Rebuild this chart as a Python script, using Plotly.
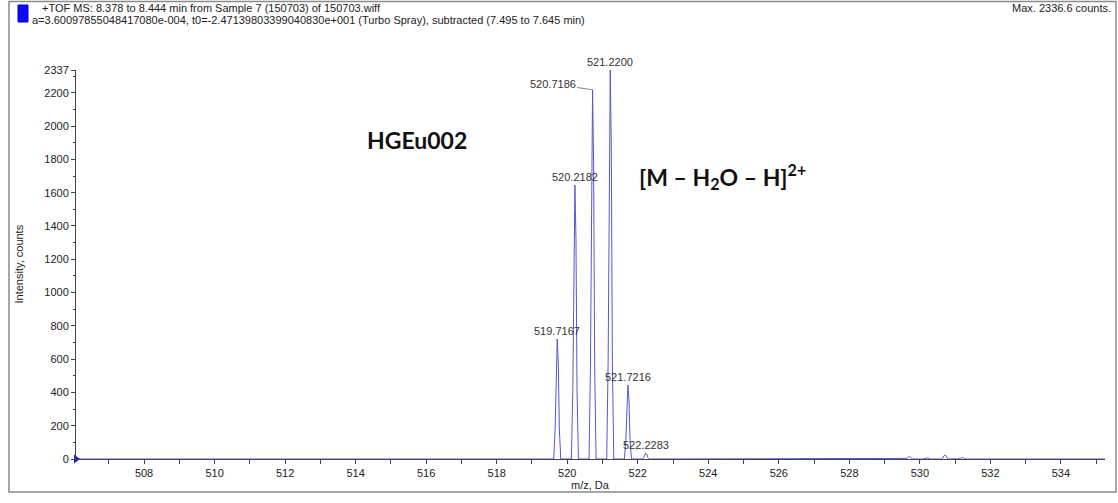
import plotly.graph_objects as go

# ---- spectrum data (m/z in Da, intensity in counts) ----
peak_mz = [519.7167, 520.2182, 520.7186, 521.2200, 521.7216, 522.2283]
peak_int = [721, 1646, 2218, 2336.6, 445, 35]
minor_mz = [529.70, 530.20, 530.71, 531.21]
minor_int = [14, 9, 24, 8]

x_range = [506.07, 535.25]
y_max = 2337
y_ticks = [0, 200, 400, 600, 800, 1000, 1200, 1400, 1600, 1800, 2000, 2200, 2337]

title_line1 = "+TOF MS: 8.378 to 8.444 min from Sample 7 (150703) of 150703.wiff"
title_line2 = ("a=3.60097855048417080e-004, t0=-2.47139803399040830e+001 "
               "(Turbo Spray), subtracted (7.495 to 7.645 min)")
max_text = "Max. 2336.6 counts."

# ---- page geometry ----
W, H = 1118, 503
L, R, T, B = 76, 13, 70, 44
PW, PH = W - L - R, H - T - B


def px_x(px):
    return (px - L) / PW


def px_y(py):
    return (H - B - py) / PH


# profile trace: each centroid drawn as a narrow peak on a flat baseline
shape_dx = [-0.1, -0.06, -0.03, 0.0, 0.03, 0.06, 0.1]
shape_fr = [0.0, 0.25, 0.8, 1.0, 0.8, 0.25, 0.0]

all_peaks = sorted(zip(peak_mz + minor_mz, peak_int + minor_int))
prof_x, prof_y = [x_range[0]], [0]
for mz, h in all_peaks:
    for dx, fr in zip(shape_dx, shape_fr):
        prof_x.append(mz + dx)
        prof_y.append(h * fr)
prof_x.append(x_range[1])
prof_y.append(0)

fig = go.Figure()
fig.add_trace(go.Scatter(
    x=prof_x, y=prof_y, mode="lines",
    line=dict(color="#5656d6", width=1),
    hoverinfo="skip", showlegend=False, cliponaxis=False,
))
# zero-level marker at the left end of the axis
fig.add_trace(go.Scatter(
    x=[x_range[0]], y=[0], mode="markers",
    marker=dict(symbol="triangle-right", size=8, color="#1a1acc"),
    hoverinfo="skip", showlegend=False, cliponaxis=False,
))

font = "Liberation Sans, Arial, sans-serif"
ann = []
for mz, h in zip(peak_mz, peak_int):
    a = dict(x=mz, y=h, xref="x", yref="y", text=f"{mz:.4f}",
             font=dict(family=font, size=11, color="#333"),
             showarrow=False, xanchor="center", yanchor="bottom", yshift=0)
    if abs(mz - 520.7186) < 1e-6:
        a.update(showarrow=True, ax=-40, ay=-6, arrowhead=0, arrowwidth=0.8,
                 arrowcolor="#666", standoff=0, yanchor="middle")
    ann.append(a)

ann += [
    dict(x=px_x(40), y=px_y(8), xref="paper", yref="paper", text=title_line1,
         showarrow=False, xanchor="left", yanchor="middle",
         font=dict(family=font, size=11, color="#222")),
    dict(x=px_x(30), y=px_y(20), xref="paper", yref="paper", text=title_line2,
         showarrow=False, xanchor="left", yanchor="middle",
         font=dict(family=font, size=11, color="#222")),
    dict(x=px_x(1113), y=px_y(8), xref="paper", yref="paper", text=max_text,
         showarrow=False, xanchor="right", yanchor="middle",
         font=dict(family=font, size=11, color="#222")),
    dict(x=px_x(417), y=px_y(140), xref="paper", yref="paper", text="<b>HGEu002</b>",
         showarrow=False, xanchor="center", yanchor="middle",
         font=dict(family="Lato, Open Sans, sans-serif", size=23, color="#111")),
    dict(x=px_x(637), y=px_y(176), xref="paper", yref="paper",
         text="<b>[M – H<sub>2</sub>O – H]<sup>2+</sup></b>",
         showarrow=False, xanchor="left", yanchor="middle",
         font=dict(family="Lato, Open Sans, sans-serif", size=23, color="#111")),
    dict(x=px_x(18), y=0.5, xref="paper", yref="paper", text="Intensity, counts",
         textangle=-90, showarrow=False, xanchor="center", yanchor="middle",
         font=dict(family=font, size=11, color="#222")),
    dict(x=0.5, y=px_y(485), xref="paper", yref="paper", text="m/z, Da",
         showarrow=False, xanchor="center", yanchor="middle",
         font=dict(family=font, size=11, color="#222")),
]

shapes = [
    # outer frame
    dict(type="rect", xref="paper", yref="paper",
         x0=px_x(9), x1=px_x(1116), y0=px_y(492), y1=px_y(1.5),
         line=dict(color="#8a8a8a", width=1.5), fillcolor="rgba(0,0,0,0)", layer="below"),
    # blue sample indicator
    dict(type="rect", xref="paper", yref="paper",
         x0=px_x(18), x1=px_x(28), y0=px_y(22), y1=px_y(5),
         line=dict(color="#0000cc", width=1), fillcolor="#0a0aff"),
]

fig.update_layout(
    width=W, height=H,
    margin=dict(l=L, r=R, t=T, b=B, pad=0),
    paper_bgcolor="white", plot_bgcolor="white",
    annotations=ann, shapes=shapes,
    font=dict(family=font, size=11, color="#222"),
    xaxis=dict(
        range=x_range, tick0=0, dtick=2, ticks="outside", ticklen=4,
        tickcolor="#444", showline=True, linecolor="#444", linewidth=1,
        showgrid=False, zeroline=False, tickfont=dict(size=11, color="#222"),
        minor=dict(dtick=1, tick0=0, ticks="outside", ticklen=4, tickcolor="#444"),
    ),
    yaxis=dict(
        range=[0, y_max], tickvals=y_ticks, ticktext=[str(v) for v in y_ticks],
        ticks="outside", ticklen=4, tickcolor="#444",
        showline=True, linecolor="#444", linewidth=1,
        showgrid=False, zeroline=False, tickfont=dict(size=11, color="#222"),
        minor=dict(dtick=100, tick0=0, ticks="outside", ticklen=2, tickcolor="#444"),
    ),
)

fig.write_html("out.html")
